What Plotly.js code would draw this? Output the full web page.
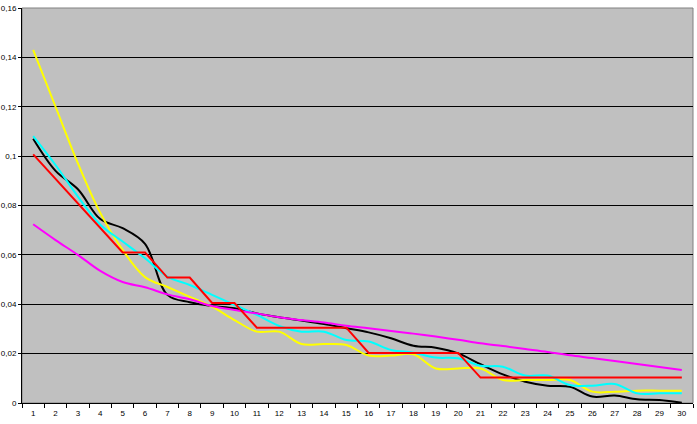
<!DOCTYPE html>
<html>
<head>
<meta charset="utf-8">
<script src="https://cdn.plot.ly/plotly-3.0.1.min.js"></script>
<style>html,body{margin:0;padding:0;background:#fff;}#chart{width:697px;height:424px;}</style>
</head>
<body>
<div id="chart"></div>
<script>
const categories = ["1","2","3","4","5","6","7","8","9","10","11","12","13","14","15","16","17","18","19","20","21","22","23","24","25","26","27","28","29","30"];
const blackSeries = [0.1070,0.0940,0.0866,0.0745,0.0708,0.0645,0.0438,0.0408,0.0393,0.0384,0.0363,0.0347,0.0334,0.0320,0.0303,0.0286,0.0262,0.0232,0.0224,0.0201,0.0157,0.0116,0.0086,0.0070,0.0066,0.0026,0.0030,0.0015,0.0012,0.0001];
const cyanSeries = [0.1081,0.0964,0.0836,0.0722,0.0654,0.0586,0.0512,0.0478,0.0438,0.0397,0.0357,0.0312,0.0289,0.0289,0.0255,0.0249,0.0215,0.0204,0.0184,0.0181,0.0151,0.0147,0.0111,0.0111,0.0073,0.0070,0.0077,0.0039,0.0039,0.0039];
const yellowSeries = [0.1430,0.1200,0.0971,0.0770,0.0620,0.0510,0.0470,0.0430,0.0390,0.0336,0.0289,0.0289,0.0239,0.0239,0.0235,0.0192,0.0192,0.0197,0.0140,0.0140,0.0140,0.0093,0.0093,0.0093,0.0093,0.0046,0.0046,0.0050,0.0050,0.0050];
const magentaSeries = [0.0724,0.0660,0.0600,0.0535,0.0490,0.0469,0.0440,0.0420,0.0393,0.0377,0.0363,0.0347,0.0336,0.0326,0.0313,0.0303,0.0292,0.0281,0.0269,0.0256,0.0242,0.0231,0.0219,0.0207,0.0193,0.0182,0.0170,0.0158,0.0146,0.0134];
const redSeries = [0.1007,0.0907,0.0808,0.0709,0.0610,0.0610,0.0508,0.0508,0.0405,0.0405,0.0305,0.0305,0.0305,0.0305,0.0305,0.0203,0.0203,0.0203,0.0203,0.0203,0.0103,0.0103,0.0103,0.0103,0.0103,0.0103,0.0103,0.0103,0.0103,0.0103];
const yTicks = [0,0.02,0.04,0.06,0.08,0.1,0.12,0.14,0.16];
const yTickText = ["0","0,02","0,04","0,06","0,08","0,1","0,12","0,14","0,16"];

function tr(y, color, shape){
  return {x: categories, y: y, type: 'scatter', mode: 'lines',
    line: {color: color, width: 2, shape: shape, smoothing: 1}, hoverinfo: 'skip'};
}
const data = [
  tr(blackSeries, '#000000', 'spline'),
  tr(yellowSeries, '#ffff00', 'spline'),
  tr(cyanSeries, '#00ffff', 'spline'),
  tr(magentaSeries, '#ff00ff', 'spline'),
  tr(redSeries, '#ff0000', 'linear')
];
const layout = {
  width: 697, height: 424,
  margin: {l: 22, r: 4, t: 8, b: 21, pad: 0},
  paper_bgcolor: '#ffffff', plot_bgcolor: '#c0c0c0',
  showlegend: false,
  font: {family: 'Liberation Sans, Arial, sans-serif', size: 8, color: '#000'},
  xaxis: {type: 'category', range: [-0.5, 29.5], tickson: 'boundaries', ticks: 'outside', ticklen: 4, tickcolor: '#000',
    showline: true, linecolor: '#000', linewidth: 1, showgrid: false, zeroline: false,
    ticklabelstandoff: 2, tickfont: {size: 8}, fixedrange: true},
  yaxis: {range: [0, 0.16], tickvals: yTicks, ticktext: yTickText, ticks: 'outside', ticklen: 3,
    tickcolor: '#000', showline: true, linecolor: '#000', linewidth: 1,
    showgrid: true, gridcolor: '#000', gridwidth: 1, zeroline: false, tickfont: {size: 8}, fixedrange: true},
  shapes: [{type: 'rect', xref: 'paper', yref: 'paper', x0: 0, x1: 1, y0: 0, y1: 1,
    line: {color: '#808080', width: 1}, fillcolor: 'rgba(0,0,0,0)', layer: 'below'}]
};
Plotly.newPlot('chart', data, layout, {staticPlot: true, displayModeBar: false});
</script>
</body>
</html>
